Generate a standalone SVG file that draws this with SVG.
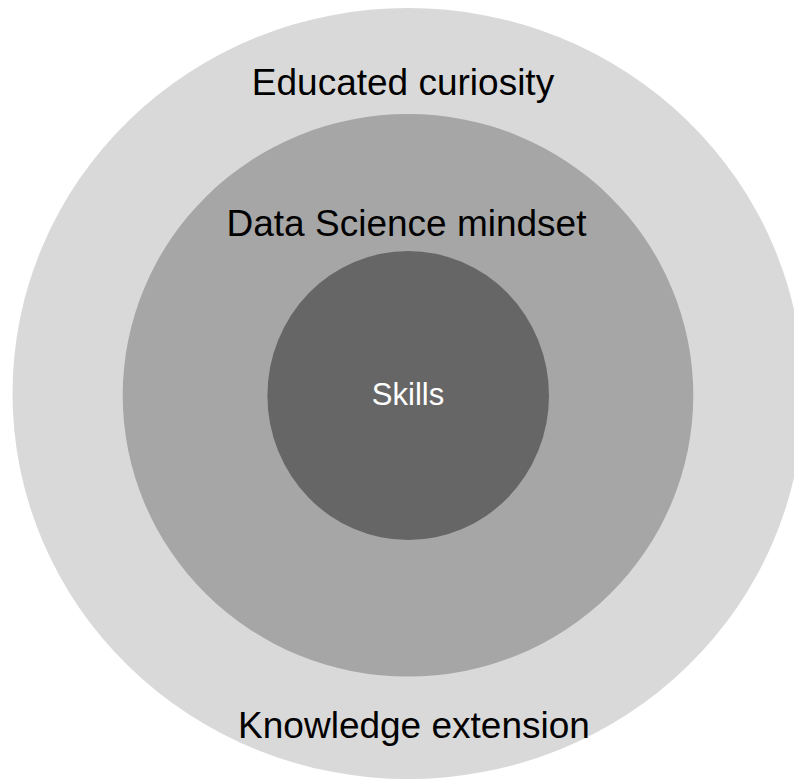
<svg xmlns="http://www.w3.org/2000/svg" width="794" height="780" viewBox="0 0 794 780">
<style>
text{font-family:"Liberation Sans",Arial,sans-serif;text-anchor:middle}
.lbl{font-size:37px;fill:#000}
.sk{font-size:31px;fill:#fff}
</style>
<rect width="794" height="780" fill="#fff"/>
<g id="outer">
<ellipse cx="408" cy="393.5" rx="395.5" ry="385.5" fill="#d9d9d9"/>
<text class="lbl" x="403" y="95">Educated curiosity</text>
<text class="lbl" x="414" y="738">Knowledge extension</text>
</g>
<g id="middle">
<ellipse cx="408" cy="395.3" rx="285.3" ry="281.3" fill="#a6a6a6"/>
<text class="lbl" x="406.5" y="236">Data Science mindset</text>
</g>
<g id="inner">
<ellipse cx="408.2" cy="395.5" rx="140.8" ry="144.5" fill="#666666"/>
<text class="sk" x="408" y="405">Skills</text>
</g>
<g id="connectors"/>
</svg>
